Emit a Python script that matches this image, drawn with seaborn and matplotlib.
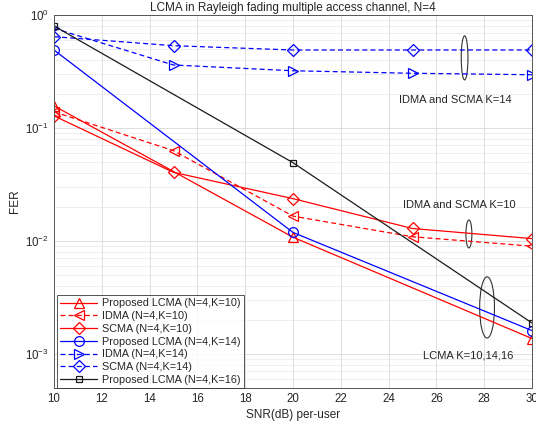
import numpy as np
import pandas as pd
import matplotlib
matplotlib.use("Agg")
import matplotlib.pyplot as plt
from matplotlib.patches import Ellipse
import seaborn as sns

# ---- data ----
snr3 = [10, 20, 30]
snr5 = [10, 15, 20, 25, 30]
lcma_k10 = [0.157, 0.0108, 0.00137]
idma_k10 = [0.139, 0.063, 0.0166, 0.0109, 0.0090]
scma_k10 = [0.128, 0.0405, 0.0237, 0.0129, 0.0105]
lcma_k14 = [0.49, 0.0119, 0.00161]
idma_k14 = [0.762, 0.361, 0.321, 0.305, 0.296]
scma_k14 = [0.643, 0.535, 0.49, 0.49, 0.49]
lcma_k16 = [0.80, 0.0493, 0.00188]

labels = ["Proposed LCMA (N=4,K=10)", "IDMA (N=4,K=10)", "SCMA (N=4,K=10)",
          "Proposed LCMA (N=4,K=14)", "IDMA (N=4,K=14)", "SCMA (N=4,K=14)",
          "Proposed LCMA (N=4,K=16)"]
xs = [snr3, snr5, snr5, snr3, snr5, snr5, snr3]
ys = [lcma_k10, idma_k10, scma_k10, lcma_k14, idma_k14, scma_k14, lcma_k16]
colors = ["#FF0000", "#FF0000", "#FF0000", "#0000FF", "#0000FF", "#0000FF", "#1a1a1a"]
styles = ["-", (0, (4, 2.5)), "-", "-", (0, (4, 2.5)), (0, (4, 2.5)), "-"]
markers = ["^", "<", "D", "o", ">", "D", "s"]
msizes = [7, 7, 6, 7, 7, 6, 5]

sns.set_style("white")
plt.rcParams['font.family'] = ['Liberation Sans', 'DejaVu Sans']

fig = plt.figure(figsize=(5.36, 4.29), dpi=100)
ax = fig.add_axes([54/536, 41/429, 478/536, 373/429])

for x, y, lab, c, ls, m, ms in zip(xs, ys, labels, colors, styles, markers, msizes):
    df = pd.DataFrame({"x": x, "y": y})
    sns.lineplot(data=df, x="x", y="y", ax=ax, color=c, linestyle=ls, marker=m,
                 markersize=ms, markerfacecolor="none", markeredgecolor=c,
                 markeredgewidth=0.9, linewidth=0.9, label=lab)

ax.set_yscale("log")
ax.set_xlim(10, 30)
ax.set_ylim(5e-4, 1)
ax.set_xticks(np.arange(10, 31, 2))
ax.grid(True, which="major", color="#d9d9d9", linewidth=0.6)
ax.grid(True, which="minor", axis="y", color="#e8e8e8", linewidth=0.5)
ax.tick_params(axis="both", which="both", direction="in", labelsize=8.3,
               colors="#262626", length=3)
ax.tick_params(axis="y", which="minor", length=2)
for s in ax.spines.values():
    s.set_color("#555555")
    s.set_linewidth(0.7)

ax.set_xlabel("SNR(dB) per-user", fontsize=8.5, color="#262626", labelpad=3)
ax.set_ylabel("FER", fontsize=8.5, color="#262626", labelpad=3)
ax.set_title("LCMA in Rayleigh fading multiple access channel, N=4",
             fontsize=8.5, color="#262626", pad=3)

leg = ax.legend(loc="lower left", bbox_to_anchor=(0.006, 0.0), fontsize=7.8,
                frameon=True, fancybox=False, edgecolor="#262626",
                handlelength=3.4, labelspacing=0.25, borderpad=0.3,
                handletextpad=0.5, borderaxespad=0.0)
leg.get_frame().set_linewidth(0.7)

# annotations
ax.text(24.45, 0.177, "IDMA and SCMA K=14", fontsize=8, color="#262626", va="center")
ax.text(24.6, 0.021, "IDMA and SCMA K=10", fontsize=8, color="#262626", va="center")
ax.text(25.45, 0.00096, "LCMA K=10,14,16", fontsize=8, color="#262626", va="center")
for (cx, cy, w, h) in [(0.859, 0.885, 0.014, 0.118),
                       (0.868, 0.413, 0.0125, 0.075),
                       (0.906, 0.216, 0.031, 0.164)]:
    ax.add_patch(Ellipse((cx, cy), w, h, transform=ax.transAxes, fill=False,
                         edgecolor="#333333", linewidth=0.8))

fig.savefig("out.png", dpi=100)
